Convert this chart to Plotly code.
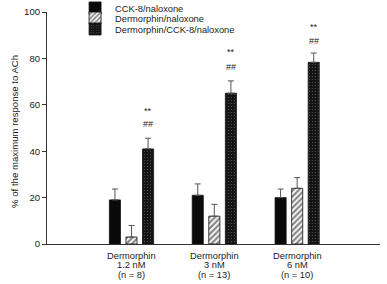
import plotly.graph_objects as go

group_lines = [["Dermorphin", "1.2 nM", "(n = 8)"],
               ["Dermorphin", "3 nM", "(n = 13)"],
               ["Dermorphin", "6 nM", "(n = 10)"]]
series_names = ["CCK-8/naloxone", "Dermorphin/naloxone", "Dermorphin/CCK-8/naloxone"]
cck_vals = [19, 21, 20]
cck_err = [4.7, 4.9, 3.7]
derm_vals = [3, 12, 24]
derm_err = [5, 5.1, 4.6]
both_vals = [41, 65, 78.3]
both_err = [4.6, 5.3, 4.0]
star_y = [57.3, 82.7, 93.5]
hash_y = [51.9, 76.2, 87.5]
yticks = [0, 20, 40, 60, 80, 100]
y_title = "% of the maximum response to ACh"

FONT = "Arial, Liberation Sans, sans-serif"
INK = "#222"
xpos = list(range(len(group_lines)))
bargap = 0.4
slot = (1 - bargap) / 3

fig = go.Figure()
styles = [
    dict(color="#0a0a0a", pattern=dict(shape="")),
    dict(color="white", pattern=dict(shape="/", fgcolor="#111", bgcolor="white", size=4, solidity=0.55)),
    dict(color="#151515", pattern=dict(shape=".", fgcolor="#9a9a9a", bgcolor="#151515", size=3, solidity=0.12)),
]
legend_ids = ["legend", "legend2", "legend3"]
for name, vals, errs, st, lg in zip(series_names, [cck_vals, derm_vals, both_vals],
                                    [cck_err, derm_err, both_err], styles, legend_ids):
    fig.add_trace(go.Bar(
        x=xpos, y=vals, name=name, legend=lg,
        marker=dict(color=st["color"], pattern=st["pattern"],
                    line=dict(color="#111", width=0.8)),
        error_y=dict(type="data", symmetric=False, array=errs, arrayminus=[0] * len(errs),
                     color="#555", thickness=1, width=3),
    ))

for i in xpos:
    fig.add_annotation(x=i + slot, y=star_y[i], text="**", showarrow=False,
                       font=dict(size=9, color=INK, family=FONT))
    fig.add_annotation(x=i + slot, y=hash_y[i], text="##", showarrow=False,
                       font=dict(size=9, color=INK, family=FONT))
    for k, line in enumerate(group_lines[i]):
        fig.add_annotation(x=i, xref="x", y=0, yref="paper", yanchor="middle",
                           yshift=-11.5 - 9.5 * k, text=line, showarrow=False,
                           font=dict(size=9.3, color=INK, family=FONT))

fig.add_annotation(x=-0.096, xref="paper", y=0.483, yref="paper", text=y_title,
                   textangle=-90, showarrow=False, xanchor="center", yanchor="middle",
                   font=dict(size=9.6, color=INK, family=FONT))

leg_common = dict(x=0.194, xref="container", yref="container", xanchor="left",
                  yanchor="middle", bgcolor="rgba(0,0,0,0)",
                  font=dict(size=9.3, color=INK, family=FONT), itemwidth=30)
fig.update_layout(
    width=387, height=284,
    margin=dict(l=47, r=7, t=12, b=40, autoexpand=False),
    paper_bgcolor="white", plot_bgcolor="white",
    barmode="group", bargap=bargap, bargroupgap=0.33,
    font=dict(family=FONT, size=9, color=INK),
    showlegend=True,
    legend=dict(y=0.972, **leg_common),
    legend2=dict(y=0.9366, **leg_common),
    legend3=dict(y=0.8979, **leg_common),
    xaxis=dict(range=[-1.02, 3.0], tickvals=xpos, ticktext=[""] * len(xpos),
               showgrid=False, zeroline=False, showline=True, linecolor="#333",
               linewidth=1, ticks="", automargin=False),
    yaxis=dict(range=[0, 100], tickvals=yticks, showgrid=False, zeroline=False,
               showline=True, linecolor="#333", linewidth=1, ticks="outside",
               ticklen=4, tickcolor="#333", tickfont=dict(size=9.6), automargin=False),
)

fig.write_html("out.html", config={"displayModeBar": False},
               post_script="document.body.style.margin='0';")
